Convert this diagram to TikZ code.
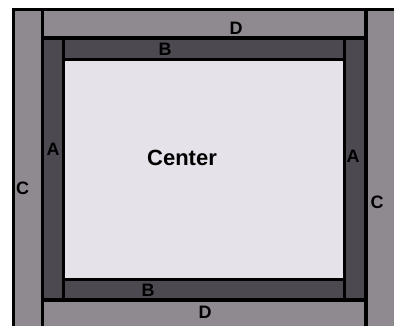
\documentclass[tikz,border=0pt]{standalone}
\usepackage{xcolor}
\usepackage{fontspec}
\setmainfont{Liberation Sans}
\usepackage{tikz}
\usetikzlibrary{positioning}
\definecolor{outerstrip}{RGB}{143,138,143}
\definecolor{innerstrip}{RGB}{76,73,80}
\definecolor{centerfill}{RGB}{229,227,233}
\tikzstyle{strip} = [rectangle, inner sep=0pt, anchor=north west]
\tikzstyle{outer} = [strip, fill=outerstrip]
\tikzstyle{inner} = [strip, fill=innerstrip]
\tikzstyle{middle} = [strip, fill=centerfill]
\tikzstyle{tag} = [font=\bfseries\fontsize{18}{18}\selectfont, text=black, inner sep=0pt]
\tikzstyle{bigtag} = [font=\bfseries\fontsize{22}{22}\selectfont, text=black, inner sep=0pt]

\begin{document}
\begin{tikzpicture}[x=1pt, y=-1pt]
        \useasboundingbox (0,0) rectangle (394,326);
        \clip (0,0) rectangle (394,326);
        \fill[black] (12,8) rectangle (397,330);

        % outside border
        \node [outer, minimum width=26pt, minimum height=316pt] (cleft) at (15,11) {};
        \node [outer, minimum width=26pt, minimum height=316pt] (cright) at (368,11) {};
        \node [outer, minimum width=320pt, minimum height=25pt] (dtop) at (44,11) {};
        \node [outer, minimum width=320pt, minimum height=25pt] (dbot) at (44,302) {};

        % inside border
        \node [inner, minimum width=18pt, minimum height=258pt] (aleft) at (44,40) {};
        \node [inner, minimum width=18pt, minimum height=258pt] (aright) at (346,40) {};
        \node [inner, minimum width=278pt, minimum height=18pt] (btop) at (65,40) {};
        \node [inner, minimum width=278pt, minimum height=17pt] (bbot) at (65,281) {};

        \node [middle, minimum width=278pt, minimum height=217pt] (center) at (65,61) {};

        % labels
        \node [bigtag] (centertext) at (182,158) {Center};
        \node [tag] (dtoptext) at (236,28) {D};
        \node [tag] (dbottext) at (205,312) {D};
        \node [tag] (btoptext) at (165,49) {B};
        \node [tag] (bbottext) at (148,290) {B};
        \node [tag] (alefttext) at (53,149) {A};
        \node [tag] (arighttext) at (353,156) {A};
        \node [tag] (clefttext) at (22.5,188) {C};
        \node [tag] (crighttext) at (377,202) {C};
    \end{tikzpicture}
\end{document}
